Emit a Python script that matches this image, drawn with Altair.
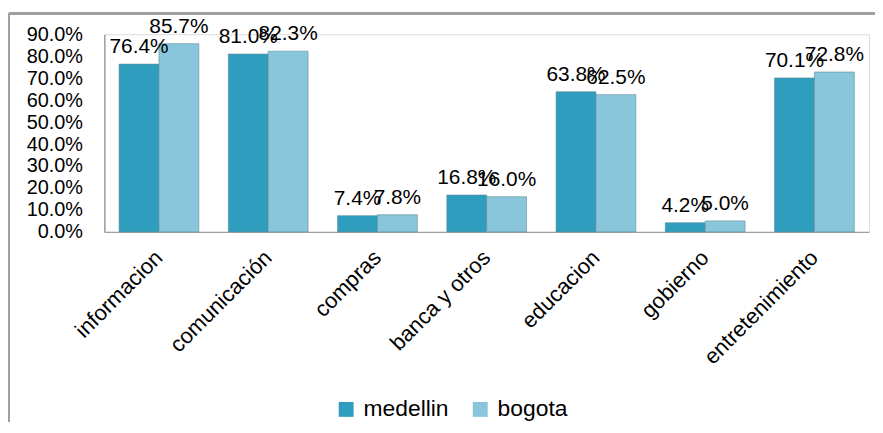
import altair as alt
import pandas as pd

categories = ["informacion", "comunicación", "compras", "banca y otros",
              "educacion", "gobierno", "entretenimiento"]
medellin = [76.4, 81.0, 7.4, 16.8, 63.8, 4.2, 70.1]
bogota = [85.7, 82.3, 7.8, 16.0, 62.5, 5.0, 72.8]
series = ["medellin", "bogota"]
colors = ["#2F9EBE", "#8AC6DB"]
y_ticks = [0, 0.1, 0.2, 0.3, 0.4, 0.5, 0.6, 0.7, 0.8, 0.9]

rows = []
for c, m, b in zip(categories, medellin, bogota):
    rows.append({"cat": c, "serie": "medellin", "v": m / 100})
    rows.append({"cat": c, "serie": "bogota", "v": b / 100})
df = pd.DataFrame(rows)

FONT = "Liberation Sans"

x_enc = alt.X("cat:N", sort=categories, title=None,
              scale=alt.Scale(paddingInner=0.27, paddingOuter=0.135),
              axis=alt.Axis(labelAngle=-45, labelAlign="right", labelBaseline="middle",
                            labelFontSize=22, labelFont=FONT, labelColor="#000000",
                            labelPadding=22, ticks=False, domainColor="#A0A0A0",
                            domainWidth=1.5, labelLimit=300, labelOverlap=False))
y_enc = alt.Y("v:Q", title=None,
              scale=alt.Scale(domain=[0, 0.9], nice=False, zero=True),
              axis=alt.Axis(format=".1%", values=y_ticks, grid=False, ticks=False,
                            labelFontSize=20, labelFont=FONT, labelColor="#000000",
                            labelPadding=22, domainColor="#A0A0A0", domainWidth=1.5,
                            labelOverlap=False, labelBound=False))
xo = alt.XOffset("serie:N", sort=series, scale=alt.Scale(paddingInner=0))
color = alt.Color("serie:N", sort=series,
                  scale=alt.Scale(domain=series, range=colors),
                  legend=alt.Legend(title=None, orient="none", direction="horizontal",
                                    legendX=232, legendY=366, symbolType="square",
                                    symbolSize=225, symbolStrokeWidth=0,
                                    labelFontSize=23, labelFont=FONT, labelColor="#000000",
                                    labelOffset=6, columnPadding=20))

base = alt.Chart(df).encode(x=x_enc, y=y_enc, xOffset=xo)

bars = base.mark_bar(stroke="#5C8A99", strokeWidth=0.6).encode(color=color)

texts = base.mark_text(baseline="alphabetic", dy=-11, fontSize=21,
                       font=FONT, color="#000000").encode(
    text=alt.Text("v:Q", format=".1%"))

frame_top = alt.Chart(df).mark_rule(color="#A0A0A0", strokeWidth=1.5).encode(
    x=alt.value(-96), x2=alt.value(780), y=alt.value(-21))
frame_left = alt.Chart(df).mark_rule(color="#A0A0A0", strokeWidth=1.5).encode(
    x=alt.value(-96), y=alt.value(-21), y2=alt.value(400))

chart = alt.layer(bars, texts, frame_top, frame_left).properties(
    width=770, height=199,
    autosize=alt.AutoSizeParams(type="none"),
    padding={"left": 97, "top": 25, "right": 6, "bottom": 190},
).configure_view(stroke=None).configure(background="#FFFFFF")

chart.save("out.html", embed_options={"renderer": "svg", "actions": False})
